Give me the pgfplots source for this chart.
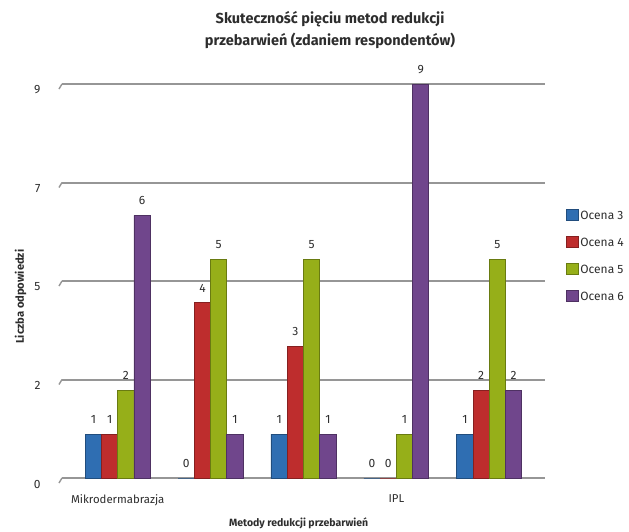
\documentclass[border=0pt]{standalone}
\usepackage{pgfplots}
\pgfplotsset{compat=1.18}
\usepackage{fontspec}
\setmainfont{Fira Sans}

\definecolor{oc3}{RGB}{47,110,178}
\definecolor{oc4}{RGB}{190,45,45}
\definecolor{oc5}{RGB}{150,175,25}
\definecolor{oc6}{RGB}{112,70,140}
\definecolor{gridgray}{RGB}{150,150,150}
\definecolor{txt}{RGB}{45,45,45}

\begin{document}
\begin{tikzpicture}
\useasboundingbox (0pt,0pt) rectangle (629pt,-532pt);
\begin{axis}[
  at={(62pt,-478pt)}, anchor=south west,
  scale only axis, width=483pt, height=394pt,
  xmin=-0.6, xmax=4.6, ymin=0, ymax=9,
  clip=false,
  /pgf/number format/assume math mode=true,
  axis line style={draw=none},
  major tick length=0pt,
  xtick={0,1,2,3,4},
  xticklabels={Mikrodermabrazja,,,IPL,},
  xticklabel style={yshift=-13pt, font=\fontsize{11.4}{13}\selectfont, text=txt},
  ytick={0,2.25,4.5,6.75,9},
  yticklabels={0,2,5,7,9},
  yticklabel style={xshift=-18pt, yshift=-6pt, font=\fontsize{12}{14}\selectfont, text=txt},
  ymajorgrids,
  major grid style={gridgray, line width=2pt},
  title={\bfseries Skuteczność pięciu metod redukcji\\\bfseries przebarwień (zdaniem respondentów)},
  title style={at={(axis description cs:0.555,1)}, anchor=south, yshift=26pt, align=center, font=\fontsize{14.5}{22}\selectfont, text=txt},
  xlabel={\bfseries Metody redukcji przebarwień},
  xlabel style={at={(axis description cs:0.49,0)}, anchor=north, yshift=-36pt, font=\fontsize{10.5}{12}\selectfont, text=txt},
  ylabel={\bfseries Liczba odpowiedzi},
  ylabel style={at={(axis description cs:0,0.46)}, anchor=south, yshift=32pt, font=\fontsize{11.2}{12}\selectfont, text=txt},
  ybar, bar width=0.175,
  nodes near coords,
  nodes near coords style={font=\fontsize{12}{14}\selectfont, text=txt, yshift=7pt},
  legend style={at={(axis description cs:1.036,0.563)}, anchor=west, draw=none,
    font=\fontsize{12}{14}\selectfont, text=txt, row sep=13pt,
    /tikz/every even column/.append style={column sep=2pt}},
  legend cell align=left,
  legend image code/.code={\fill[#1] (0pt,-5pt) rectangle (12pt,6pt);},
]
\addplot[fill=oc3, draw=oc3!70!black, line width=0.8pt, bar shift=-0.2625] coordinates {(0,1) (1,0) (2,1) (3,0) (4,1)};
\addplot[fill=oc4, draw=oc4!70!black, line width=0.8pt, bar shift=-0.0875] coordinates {(0,1) (1,4) (2,3) (3,0) (4,2)};
\addplot[fill=oc5, draw=oc5!70!black, line width=0.8pt, bar shift=0.0875] coordinates {(0,2) (1,5) (2,5) (3,1) (4,5)};
\addplot[fill=oc6, draw=oc6!70!black, line width=0.8pt, bar shift=0.2625] coordinates {(0,6) (1,1) (2,1) (3,9) (4,2)};
\legend{Ocena 3,Ocena 4,Ocena 5,Ocena 6}
\draw[gridgray, line width=1.4pt] (axis cs:-0.6,0) -- ++(-3pt,-5pt);
\draw[gridgray, line width=1.4pt] (axis cs:-0.6,2.25) -- ++(-3pt,-5pt);
\draw[gridgray, line width=1.4pt] (axis cs:-0.6,4.5) -- ++(-3pt,-5pt);
\draw[gridgray, line width=1.4pt] (axis cs:-0.6,6.75) -- ++(-3pt,-5pt);
\draw[gridgray, line width=1.4pt] (axis cs:-0.6,9) -- ++(-3pt,-5pt);
\end{axis}
\end{tikzpicture}
\end{document}
